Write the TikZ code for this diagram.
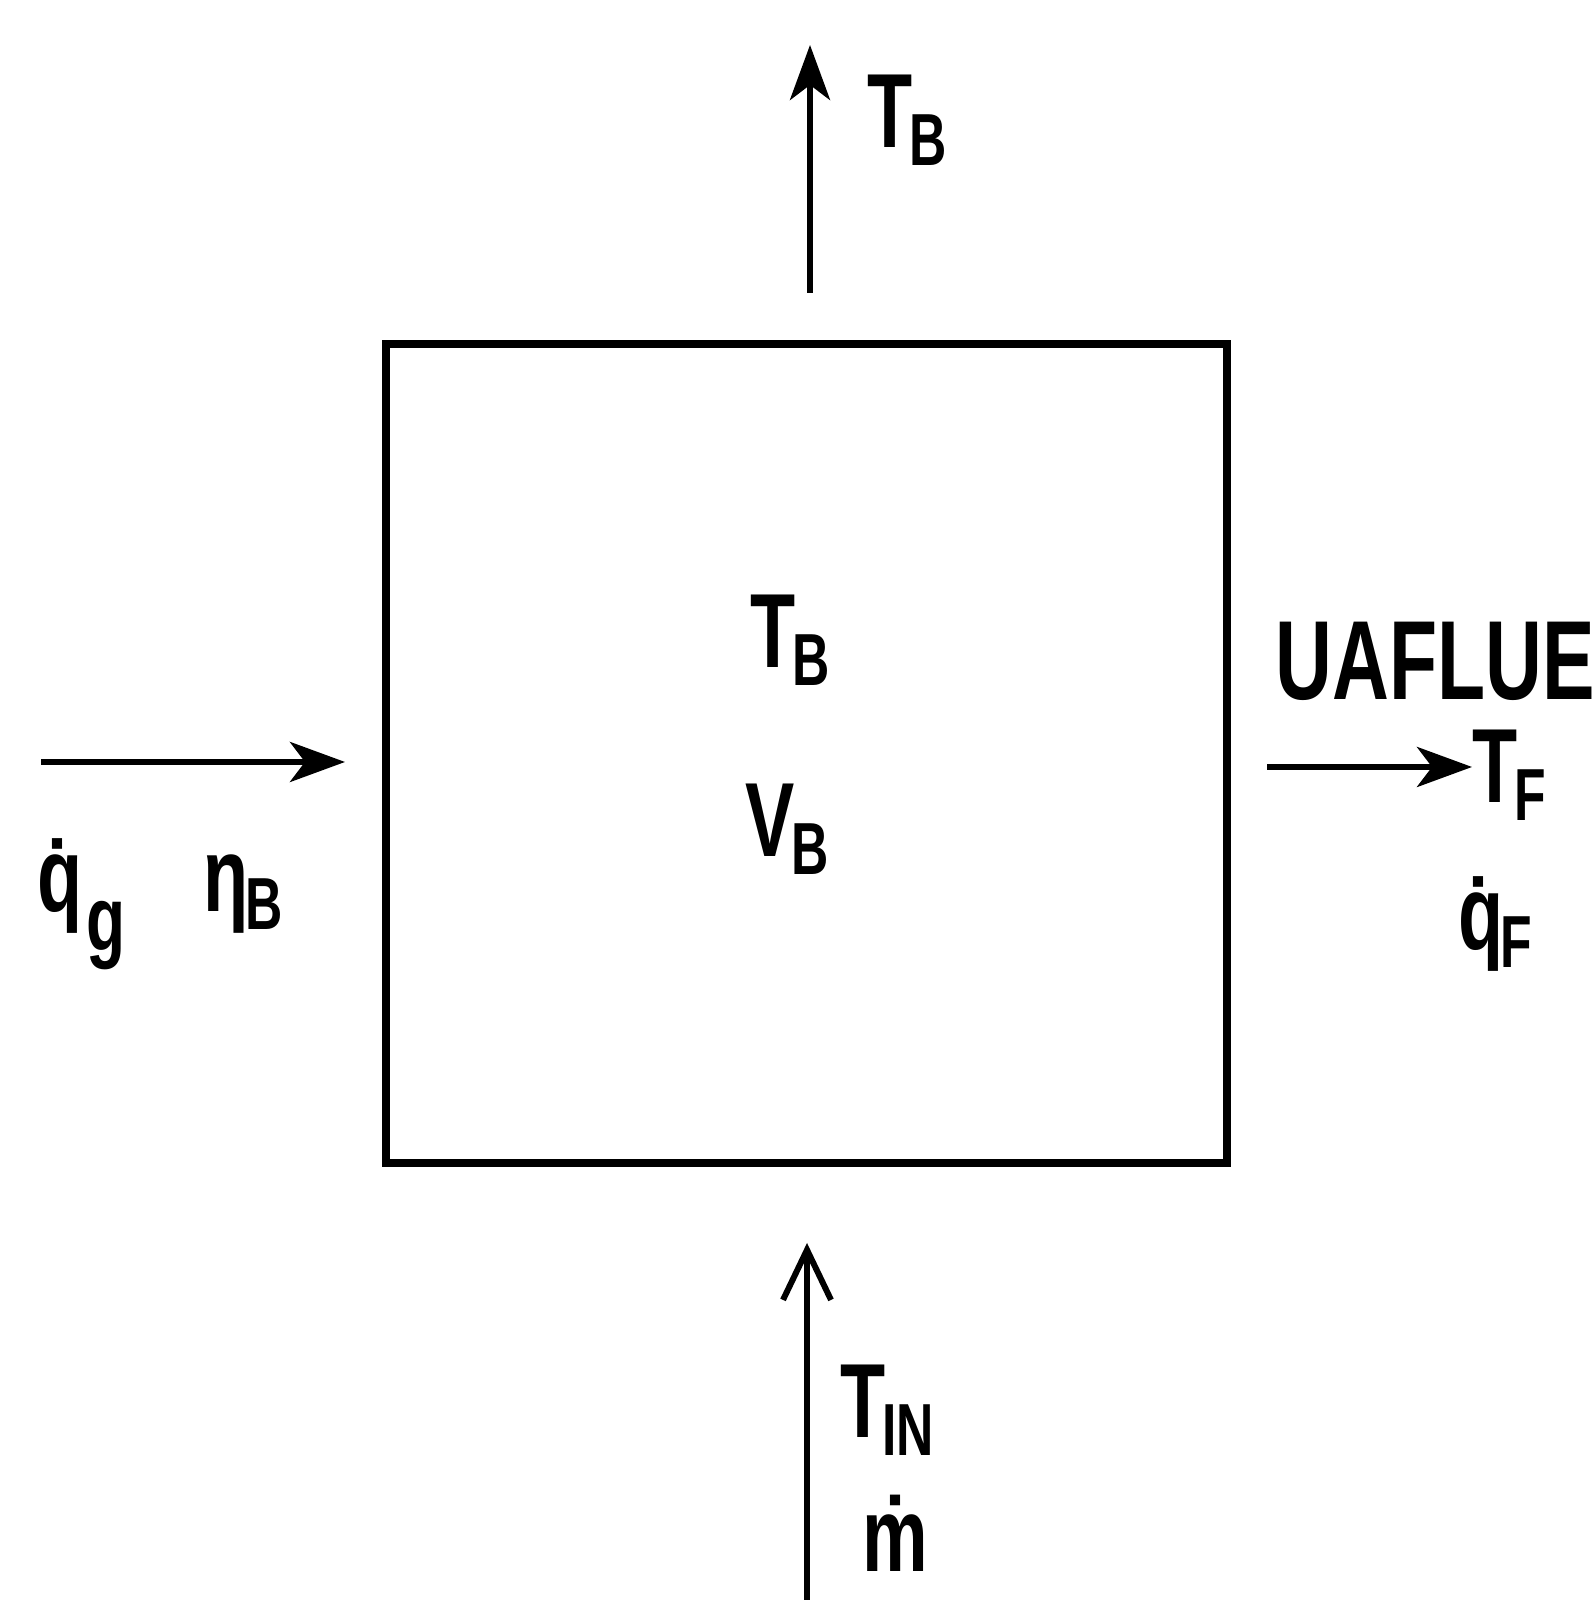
\documentclass[tikz,border=0pt]{standalone}
\usepackage{fontspec}
\setmainfont[FakeStretch=0.7]{Liberation Sans}
\usetikzlibrary{positioning, arrows.meta}

\newcommand{\lowsub}[1]{\kern-1pt\raisebox{-5pt}{\fontsize{21}{21}\selectfont\bfseries #1}}

\begin{document}
\begin{tikzpicture}[
  font=\fontsize{30}{34}\selectfont\bfseries,
  vessel/.style={draw, line width=2.2pt, minimum width=8.41cm, minimum height=8.19cm, inner sep=0pt},
  flow/.style={-{Stealth[length=5.5mm, width=4mm, inset=1.5mm]}, line width=1.7pt},
  inflow/.style={-{Straight Barb[length=5mm, width=4.8mm]}, line width=1.7pt},
  tag/.style={anchor=base west, inner sep=0pt}
]
\useasboundingbox (0,0) rectangle (15.92,16);

% --- the boiler volume ---
\node[vessel] (boiler) at (8.065,8.465) {};
\node[tag] (tbin) at (7.50,9.32) {T\lowsub{B}};
\node[tag] (vb) at (7.45,7.43) {V\lowsub{B}};

% --- stack out the top ---
\coordinate (topfoot) at (8.10,13.07);
\coordinate (toptip) at (8.10,15.55);
\draw[flow] (topfoot) -- (toptip);
\node[tag] (tbtop) at (8.67,14.52) {T\lowsub{B}};

% --- firing rate in from the left ---
\coordinate (leftfoot) at (0.41,8.38);
\coordinate (lefttip) at (3.45,8.38);
\draw[flow] (leftfoot) -- (lefttip);
\node[tag] (qg) at (0.37,6.88) {\.q\kern1pt\raisebox{-11pt}{\fontsize{26}{26}\selectfont g}};
\node[tag] (etab) at (2.03,6.88) {η\lowsub{B}};

% --- flue losses to the right ---
\node[tag, font=\fontsize{32}{36}\selectfont\bfseries] (uaflue) at (12.75,9.00) {UAFLUE};
\node[tag] (tf) at (14.72,7.97) {T\lowsub{F}};
\coordinate (rightfoot) at (12.67,8.33);
\draw[flow] (rightfoot) -- (tf.west |- rightfoot);
\node[tag] (qf) at (14.58,6.50) {\.q\lowsub{F}};

% --- water in at the bottom ---
\coordinate (botfoot) at (8.07,0);
\coordinate (bottip) at (8.07,3.57);
\draw[inflow] (botfoot) -- (bottip);
\node[tag] (tin) at (8.40,1.62) {T\lowsub{IN}};
\node[tag] (mdot) at (8.62,0.28) {\.m};

\end{tikzpicture}
\end{document}
